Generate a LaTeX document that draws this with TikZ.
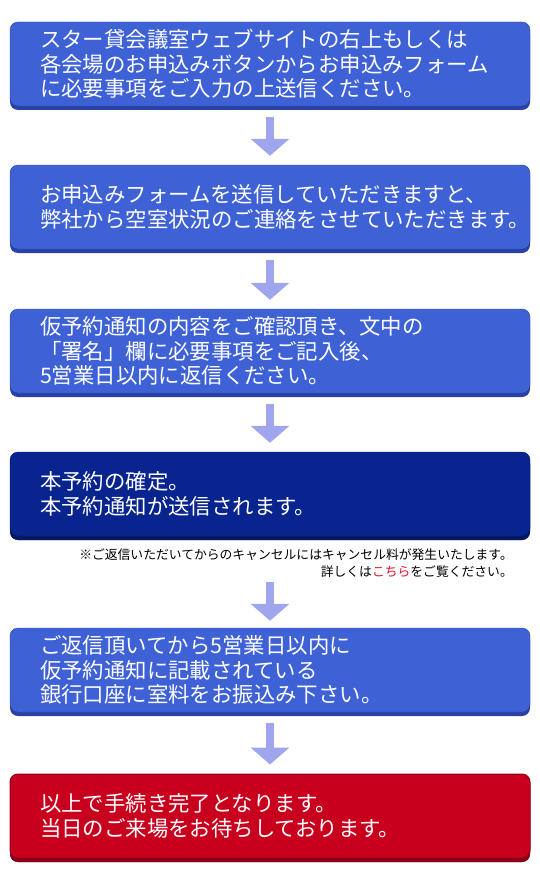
\documentclass[tikz,border=0pt]{standalone}
\usepackage{fontspec}
\setmainfont{Noto Sans CJK JP}
\usetikzlibrary{arrows.meta, positioning, shadows}
\definecolor{boxblue}{HTML}{3E62D6}
\definecolor{boxblueshade}{HTML}{2A41A4}
\definecolor{boxnavy}{HTML}{08248E}
\definecolor{boxnavyshade}{HTML}{051862}
\definecolor{boxred}{HTML}{C8001E}
\definecolor{boxredshade}{HTML}{8C0016}
\definecolor{arrowlilac}{HTML}{A0A6EE}
\definecolor{linkred}{HTML}{E0102A}

\begin{document}
\begin{tikzpicture}[
    x=1pt, y=-1pt,
    flow box/.style={rounded corners=8pt, fill=boxblue, draw=boxblueshade, text=white,
        align=left, text width=460pt, inner xsep=30pt, minimum height=84pt,
        font=\fontsize{21.4}{24.5}\selectfont,
        general shadow={fill=boxblueshade, shadow yshift=-4pt}},
    navy box/.style={flow box, fill=boxnavy, draw=boxnavyshade,
        general shadow={fill=boxnavyshade, shadow yshift=-4pt}},
    red box/.style={flow box, fill=boxred, draw=boxredshade, line width=1pt,
        general shadow={fill=boxredshade, shadow yshift=-4pt}},
    flow arrow/.style={draw=arrowlilac, line width=8pt,
        -{Triangle[width=38pt, length=17pt]}, shorten <=11pt, shorten >=9pt},
    note/.style={align=right, inner sep=2pt, font=\fontsize{12.8}{17}\selectfont}
]
    \useasboundingbox (0,0) rectangle (539,880);

    \node[flow box] (box1) at (270, 64) {スター貸会議室ウェブサイトの右上もしくは\\各会場のお申込みボタンからお申込みフォーム\\に必要事項をご入力の上送信ください。};
    \node[flow box] (box2) at (270, 207) {お申込みフォームを送信していただきますと、\\弊社から空室状況のご連絡をさせていただきます。};
    \node[flow box] (box3) at (270, 351) {仮予約通知の内容をご確認頂き、文中の\\「署名」欄に必要事項をご記入後、\\5営業日以内に返信ください。};
    \node[navy box] (box4) at (270, 494) {本予約の確定。\\本予約通知が送信されます。};
    \node[note, anchor=north east] (note) at (515, 546) {※ご返信いただいてからのキャンセルにはキャンセル料が発生いたします。\\詳しくは\textcolor{linkred}{こちら}をご覧ください。};
    \node[flow box] (box5) at (270, 670) {ご返信頂いてから5営業日以内に\\仮予約通知に記載されている\\銀行口座に室料をお振込み下さい。};
    \node[red box] (box6) at (270, 816) {以上で手続き完了となります。\\当日のご来場をお待ちしております。};

    \draw[flow arrow] (box1) -- (box2);
    \draw[flow arrow] (box2) -- (box3);
    \draw[flow arrow] (box3) -- (box4);
    \draw[flow arrow, shorten <=3pt, shorten >=7pt] (box4.south |- note.south) -- (box5.north);
    \draw[flow arrow] (box5) -- (box6);
\end{tikzpicture}
\end{document}
